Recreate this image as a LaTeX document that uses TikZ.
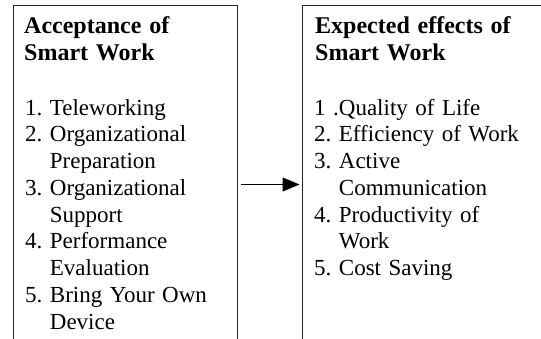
\documentclass[tikz,border=0pt]{standalone}
\usepackage{fontspec}
\setmainfont{Liberation Serif}[WordSpace=1.3]
\usetikzlibrary{arrows.meta,positioning}

\begin{document}
\begin{tikzpicture}[x=1pt, y=-1pt,
    frame/.style={draw=black!85, line width=1pt, inner sep=0pt, minimum height=358pt},
    head/.style={inner sep=0pt, anchor=base west, font=\fontsize{24}{27}\selectfont\bfseries},
    items/.style={inner sep=0pt, anchor=base west, font=\fontsize{23}{26.75}\selectfont}]
  \useasboundingbox (0,0) rectangle (541,338);
  \clip (0,0) rectangle (541,338);
  \node[frame, minimum width=224pt, anchor=north west] (accept) at (12.5,5) {};
  \node[frame, minimum width=280pt, anchor=north west] (effects) at (302,5) {};

  \node[head] (accepthead) at (24,33)
    {\begin{tabular}[t]{@{}l@{}}Acceptance of\\Smart Work\end{tabular}};
  \node[items] (acceptlist) at (25,115)
    {\begin{tabular}[t]{@{}l@{\ }l@{}}
      1. & Teleworking\\
      2. & Organizational\\
         & Preparation\\
      3. & Organizational\\
         & Support\\
      4. & Performance\\
         & Evaluation\\
      5. & Bring Your Own\\
         & Device
    \end{tabular}};

  \node[head] (effectshead) at (315,33)
    {\begin{tabular}[t]{@{}l@{}}Expected effects of\\Smart Work\end{tabular}};
  \node[items] (effectslist) at (314,115)
    {\begin{tabular}[t]{@{}l@{\ }l@{}}
      \multicolumn{2}{@{}l@{}}{1 .Quality of Life}\\
      2. & Efficiency of Work\\
      3. & Active\\
         & Communication\\
      4. & Productivity of\\
         & Work\\
      5. & Cost Saving
    \end{tabular}};

  \draw[-{Triangle[length=17pt,width=14pt]}, line width=1pt,
        shorten <=3.5pt, shorten >=2.5pt] (accept.east) -- (effects.west);
\end{tikzpicture}
\end{document}
